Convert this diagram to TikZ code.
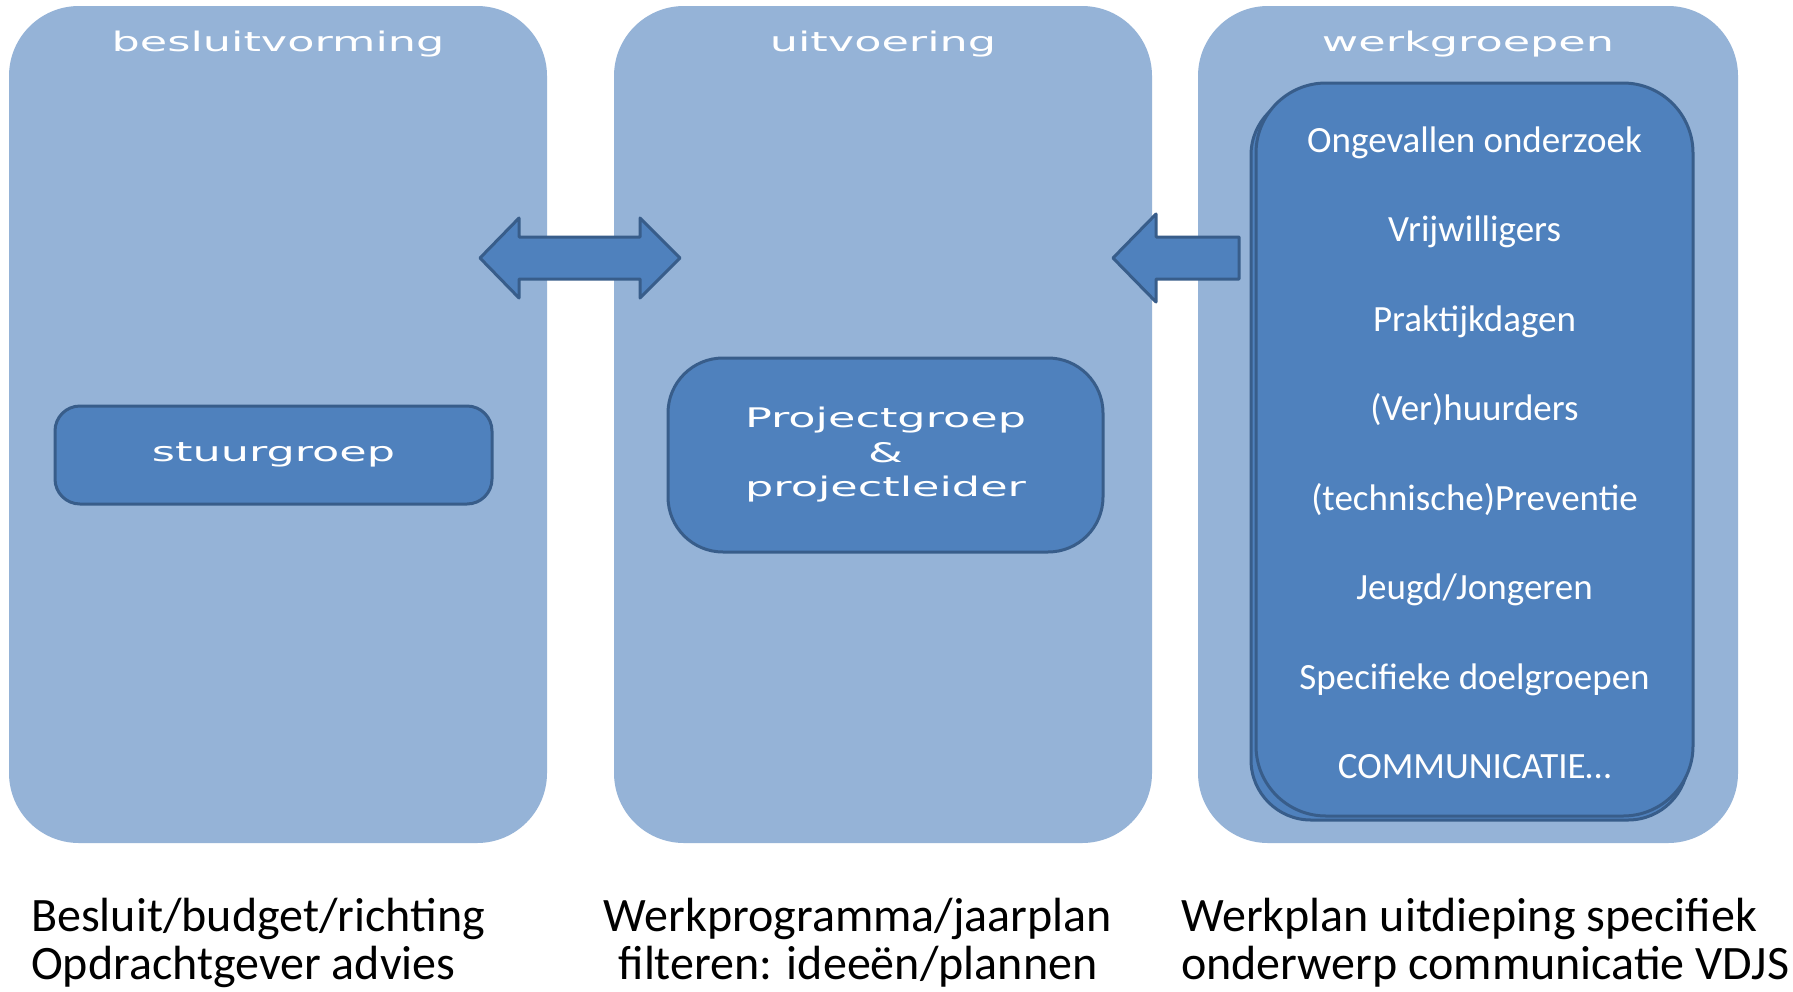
\documentclass[tikz,border=0pt]{standalone}
\usepackage{fontspec}
\newfontfamily\ttlfont{DejaVu Sans}
\newfontfamily\calfont{Carlito}
\definecolor{colfill}{HTML}{95B3D7}
\definecolor{boxfill}{HTML}{4F81BD}
\definecolor{boxline}{HTML}{385D8A}
\newcommand{\wide}[1]{\scalebox{1.65}[1]{#1}}
\tikzset{
 colbox/.style={fill=colfill, draw=none, rounded corners=70pt, minimum width=538pt, minimum height=837pt, inner sep=0pt},
 ttl/.style={text=white, font=\ttlfont\fontsize{27}{34.5}\selectfont, inner sep=0pt, anchor=base},
 bluebox/.style={fill=boxfill, draw=boxline, line width=3pt, text=white, font=\ttlfont\fontsize{27}{34.5}\selectfont, align=center, inner sep=0pt},
 blockarrow/.style={fill=boxfill, draw=boxline, line width=3pt, line join=round},
 item/.style={text=white, font=\calfont\fontsize{37}{40}\selectfont, inner sep=0pt, anchor=base},
 capL/.style={text=black, font=\calfont\fontsize{48}{50}\selectfont, inner sep=0pt, anchor=base west},
 capC/.style={text=black, font=\calfont\fontsize{48}{50}\selectfont, inner sep=0pt, anchor=base},
}
\begin{document}
\begin{tikzpicture}[x=1pt,y=-1pt]
\useasboundingbox (0,0) rectangle (1793,991);
\fill[white] (0,0) rectangle (1793,991);
% columns
\node[colbox] (c1) at (278,424.5) {};
\node[colbox] (c2) at (883,424.5) {};
\node[colbox, minimum width=540pt] (c3) at (1468,424.5) {};
% titles
\node[ttl] (t1) at (278,51) {\wide{besluitvorming}};
\node[ttl] (t2) at (883,51) {\wide{uitvoering}};
\node[ttl] (t3) at (1468,51) {\wide{werkgroepen}};
% inner boxes
\node[bluebox, rounded corners=25pt, minimum width=437pt, minimum height=98pt] (sg) at (273.5,455) {\wide{stuurgroep}};
\node[bluebox, rounded corners=55pt, minimum width=435pt, minimum height=194pt] (pg) at (885.5,455) {\wide{Projectgroep}\\\wide{\&}\\\wide{projectleider}};
% werkgroepen stack
\draw[blockarrow, rounded corners=60pt] (1251,95) rectangle (1688,820);
\node[bluebox, rounded corners=70pt, minimum width=437pt, minimum height=733pt] (wg) at (1474.5,449.5) {};
% items
\node[item] (i1) at (1474.5,152) {Ongevallen onderzoek};
\node[item] (i2) at (1474.5,241.5) {Vrijwilligers};
\node[item] (i3) at (1474.5,331) {Praktijkdagen};
\node[item] (i4) at (1474.5,420.5) {(Ver)huurders};
\node[item] (i5) at (1474.5,510) {(technische)Preventie};
\node[item] (i6) at (1474.5,599.5) {Jeugd/Jongeren};
\node[item] (i7) at (1474.5,689) {Specifieke doelgroepen};
\node[item] (i8) at (1474.5,778.5) {COMMUNICATIE\ldots};
% arrows
\draw[blockarrow] (480,258) -- (519,218) -- (519,237) -- (640,237) -- (640,218) -- (680,258) -- (640,298) -- (640,279) -- (519,279) -- (519,298) -- cycle;
\draw[blockarrow] (1113,258) -- (1156,214) -- (1156,237) -- (1239,237) -- (1239,279) -- (1156,279) -- (1156,302) -- cycle;
% captions
\node[capL] (b1) at (31,931) {Besluit/budget/richting};
\node[capL] (b2) at (31,979) {Opdrachtgever advies};
\node[capC] (b3) at (858,931) {Werkprogramma/jaarplan};
\node[capC] (b4) at (858,979) {filteren: ideeën/plannen};
\node[capL] (b5) at (1181,931) {Werkplan uitdieping specifiek};
\node[capL] (b6) at (1181,979) {onderwerp communicatie VDJS};
\end{tikzpicture}
\end{document}
